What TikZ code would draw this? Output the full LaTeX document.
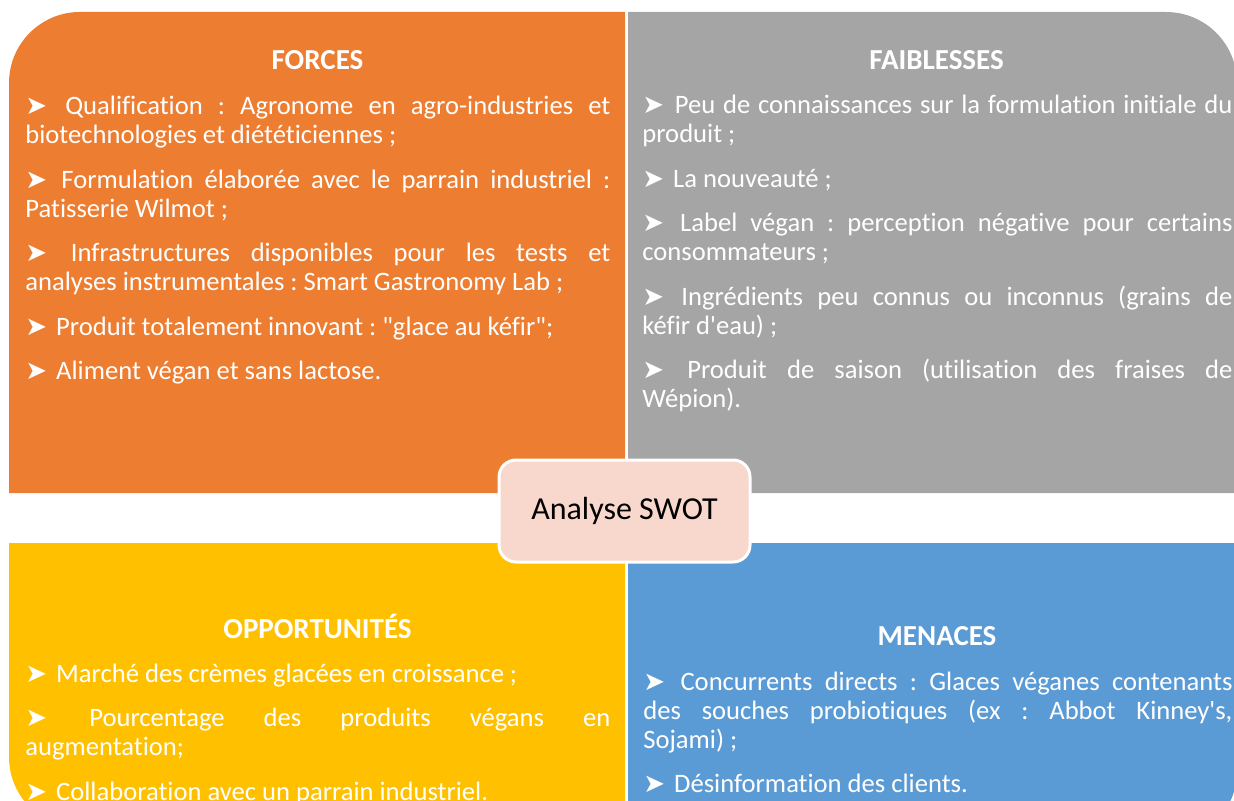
\documentclass[tikz,border=0pt]{standalone}
\usepackage{fontspec}
\setmainfont{Carlito}[Ligatures={TeXOff,CommonOff}]
\newfontfamily\arrowglyphfont{DejaVu Sans}
\definecolor{cOrange}{HTML}{ED7D31}
\definecolor{cGray}{HTML}{A5A5A5}
\definecolor{cYellow}{HTML}{FFC000}
\definecolor{cBlue}{HTML}{5B9BD5}
\definecolor{cCenter}{HTML}{F8D8CC}
\newcommand{\arr}{{\arrowglyphfont\fontsize{13}{12}\selectfont ➤\kern1.5pt}}
\frenchspacing
\begin{document}
\begin{tikzpicture}[x=0.5pt,y=-0.5pt,
  quad/.style={draw=none},
  title/.style={anchor=base, text=white, inner sep=0pt, font=\fontsize{14.5}{17}\selectfont\bfseries},
  body/.style={anchor=base west, text=white, inner sep=0pt, align=justify,
    font=\fontsize{13.3}{14.5}\selectfont,
    execute at begin node={\frenchspacing\setlength{\parskip}{7.75pt}\hyphenpenalty=10000 \exhyphenpenalty=10000 \tolerance=10000 \hbadness=10000 }},
  centerbox/.style={draw=white, line width=1.5pt, fill=cCenter, rounded corners=8.5pt,
    minimum width=125.5pt, minimum height=51pt, inner sep=0pt, text=black,
    font=\fontsize{16}{19}\selectfont}
]
\useasboundingbox (0,0) rectangle (1234,801);
\begin{scope}
\clip (0,0) rectangle (1234,801);
% quadrants
\path[quad, fill=cOrange] (9,493) -- (9,83) arc[start angle=180, end angle=270, radius=71] -- (625,12) -- (625,493) -- cycle;
\path[quad, fill=cGray] (628,493) -- (628,12) -- (1166,12) arc[start angle=270, end angle=360, radius=71] -- (1237,493) -- cycle;
\path[quad, fill=cYellow] (9,543) -- (625,543) -- (625,828) -- (80,828) arc[start angle=90, end angle=180, radius=71] -- cycle;
\path[quad, fill=cBlue] (628,543) -- (1237,543) -- (1237,771) arc[start angle=0, end angle=90, radius=71] -- (628,842) -- cycle;

% titles
\node[title] (tF) at (317.5,70) {FORCES};
\node[title] (tW) at (936.5,70) {FAIBLESSES};
\node[title] (tO) at (317.5,638) {OPPORTUNITÉS};
\node[title] (tT) at (937,645) {MENACES};

% bodies
\node[body, text width=292.5pt] (bF) at (25,115) {%
\arr{} Qualification : Agronome en agro-industries et\linebreak biotechnologies et diététiciennes ;\par
\arr{} Formulation élaborée avec le parrain industriel :\linebreak Patisserie Wilmot ;\par
\arr{} Infrastructures disponibles pour les tests et\linebreak analyses instrumentales : Smart Gastronomy Lab ;\par
\arr{} Produit totalement innovant : "glace au kéfir";\par
\arr{} Aliment végan et sans lactose.};

\node[body, text width=295pt] (bW) at (642,114) {%
\arr{} Peu de connaissances sur la formulation initiale du\linebreak produit ;\par
\arr{} La nouveauté ;\par
\arr{} Label végan : perception négative pour certains\linebreak consommateurs ;\par
\arr{} Ingrédients peu connus ou inconnus (grains de\linebreak kéfir d'eau) ;\par
\arr{} Produit de saison (utilisation des fraises de\linebreak Wépion).};

\node[body, text width=292.5pt] (bO) at (25,682) {%
\arr{} Marché des crèmes glacées en croissance ;\par
\arr{} Pourcentage des produits végans en\linebreak augmentation;\par
\arr{} Collaboration avec un parrain industriel.};

\node[body, text width=294.5pt] (bT) at (643,690) {%
\arr{} Concurrents directs : Glaces véganes contenants\linebreak des souches probiotiques (ex : Abbot Kinney's,\linebreak Sojami) ;\par
\arr{} Désinformation des clients.};
\end{scope}

\node[centerbox] (center) at (624.5,511) {Analyse SWOT};
\end{tikzpicture}
\end{document}
